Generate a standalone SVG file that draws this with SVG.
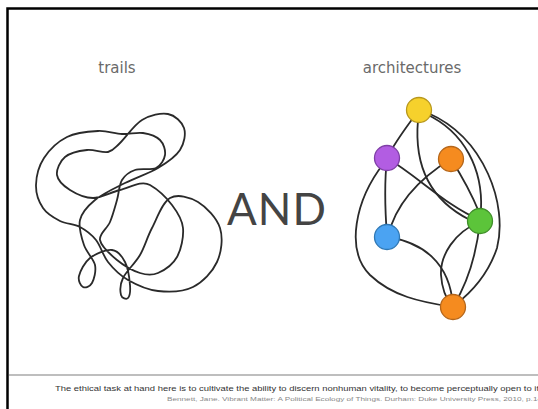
<svg xmlns="http://www.w3.org/2000/svg" width="538" height="409" viewBox="0 0 538 409">
<style>
.title{font-family:"DejaVu Sans",sans-serif;font-size:15px;fill:#6a6a6a;text-anchor:middle}
.and{font-family:Lato,"DejaVu Sans",sans-serif;font-size:44px;fill:#444;text-anchor:middle;letter-spacing:1px}
.edge{fill:none;stroke:#2a2a2a;stroke-width:1.8;stroke-linecap:round}
.node{stroke-width:1.3}
.foot1{font-family:"Liberation Sans",Arial,sans-serif;font-size:7px;fill:#333}
.foot2{font-family:"Liberation Sans",Arial,sans-serif;font-size:6px;fill:#888}
</style>
<rect width="538" height="409" fill="#fff"/>
<path d="M7.5 409 V8.5 H538" fill="none" stroke="#000" stroke-width="2.5"/>
<g id="title-trails"><text class="title" x="117" y="73">trails</text></g>
<g id="title-architectures"><text class="title" x="412" y="73">architectures</text></g>
<g id="and"><text class="and" x="277" y="225">AND</text></g>
<g id="trails">
<path class="edge" d="M120,143 C125.7,137.7 134,124.8 142,120 S161,112.7 168,114 S182,122 184,128 S184.3,143.3 180,150 S167.2,162.5 158,168 S135.5,177.7 125,183 S102.5,193.8 95,200 S81.8,212.5 80,220 S81.5,237.5 84,245 S93.7,258.7 95,265 S94,279.3 92,283 S85.2,288.2 83,287 S77.8,280.8 79,276 S84.5,262.3 90,258 S106.2,249.3 112,250 S122,256.2 125,262 S129.5,279 130,285 S129.5,296.3 128,298 S121.8,298.3 121,295 S119.8,284.7 123,278 S135.2,263.3 140,255 S147,237.5 152,228 S162.3,202.3 170,198 S189.7,197 198,202 S216.8,218 220,228 S221.5,252.2 217,262 S202.8,282.2 193,287 S168.8,292.2 158,291 S136.3,284.8 128,280 S113.3,268.7 108,262 S100.7,245.8 96,240 S86,230.2 80,227 S66.2,224.2 60,221 S47,214 43,208 S35.8,193.3 36,185 S38.8,166 44,158 S58,141.5 67,137 S88.8,131.5 98,131 S114.5,133.7 122,134 S136.7,132 143,133 S156.3,136.3 160,140 S165.7,150.3 165,155 S161,165.5 156,168 S140.7,168 135,170 S125,175 122,180 S119,193 117,200 S112.8,215.3 110,222 S98.8,233.7 100,240 S110.3,254.5 117,260 S133.2,270.8 140,273 S151.8,275.7 158,273 S172.8,264.5 177,257 S183.8,236.7 183,228 S177.5,212.2 172,205 S158.7,190 150,185 S129.5,187.8 120,190 S101.3,198 93,198 S76,193.8 70,190 S57.8,180.5 57,175 S60,161.2 65,157 S79.8,150.8 87,150 S102.5,153.2 108,152 S114.3,148.3 120,143 Z"/>
</g>
<g id="connectors">
<path class="edge" d="M419,110 C408,125 396,140 387,158"/>
<path class="edge" d="M418,120 C414,165 430,200 470,220"/>
<path class="edge" d="M387,158 C420,178 445,205 480,220"/>
<path class="edge" d="M426,114 C465,132 483,170 481,210"/>
<path class="edge" d="M428,113 C485,138 508,205 497,248 C488,275 472,292 455,305"/>
<path class="edge" d="M451,159 C463,178 472,195 479,212"/>
<path class="edge" d="M451,159 C420,178 396,203 388,236"/>
<path class="edge" d="M387,158 C384,185 385,210 387,236"/>
<path class="edge" d="M384,163 C355,200 345,250 370,275 C392,296 420,302 453,307"/>
<path class="edge" d="M387,237 C422,242 450,262 453,306"/>
<path class="edge" d="M480,221 C476,260 466,285 454,305"/>
<path class="edge" d="M478,223 C455,232 440,255 441,275 C442,290 447,300 452,306"/>
</g>
<g id="node-yellow"><circle class="node" cx="419" cy="110" r="12.5" fill="#f6d12c" stroke="#b8981c"/></g>
<g id="node-purple"><circle class="node" cx="387" cy="158" r="12.5" fill="#b25de2" stroke="#7f3fa6"/></g>
<g id="node-orange-top"><circle class="node" cx="451" cy="159" r="12.5" fill="#f58b1f" stroke="#b5661a"/></g>
<g id="node-green"><circle class="node" cx="480" cy="221" r="12.5" fill="#5cc43a" stroke="#3f8f29"/></g>
<g id="node-blue"><circle class="node" cx="387" cy="237" r="12.5" fill="#4ba3f2" stroke="#2f78b5"/></g>
<g id="node-orange-bottom"><circle class="node" cx="453" cy="307" r="12.5" fill="#f58b1f" stroke="#b5661a"/></g>
<line x1="9" y1="375" x2="538" y2="375" stroke="#a8a8a8" stroke-width="1.5"/>
<g id="footer">
<text class="foot1" x="55" y="391" textLength="484" lengthAdjust="spacingAndGlyphs">The ethical task at hand here is to cultivate the ability to discern nonhuman vitality, to become perceptually open to it</text>
<text class="foot2" x="167" y="401" textLength="375" lengthAdjust="spacingAndGlyphs">Bennett, Jane. Vibrant Matter: A Political Ecology of Things. Durham: Duke University Press, 2010, p.14</text>
</g>
</svg>
